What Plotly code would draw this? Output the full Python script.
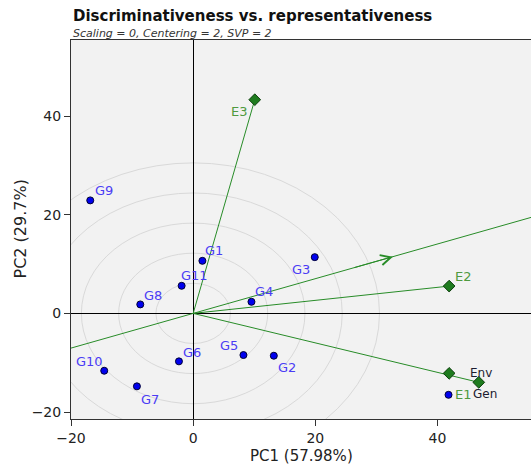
import plotly.graph_objects as go

# Genotype scores on the first two principal components
genotypes = ["G1", "G2", "G3", "G4", "G5", "G6", "G7", "G8", "G9", "G10", "G11"]
gen_pc1 = [1.51, 13.2, 19.9, 9.54, 8.23, -2.33, -9.21, -8.66, -16.85, -14.56, -1.89]
gen_pc2 = [10.65, -8.58, 11.4, 2.35, -8.44, -9.72, -14.78, 1.82, 22.9, -11.62, 5.59]

# Environment vectors (drawn from the origin)
envs = ["E3", "E2"]
env_pc1 = [10.08, 41.9]
env_pc2 = [43.3, 5.53]

# E1 score and the average environment / ideal genotype markers
e1_pc1, e1_pc2 = 41.8, -16.5
avg_names = ["Env", "Gen"]
avg_pc1 = [41.9, 46.75]
avg_pc2 = [-12.15, -13.97]

# Average-environment axis direction
aea_pc1, aea_pc2 = 32.7, 11.5

# Concentric reference circles
circle_radii = [6.1, 12.2, 18.3, 24.4, 30.5]

x_range = [-20, 55.3]
y_range = [-21.4, 55.4]

FONT = "DejaVu Sans, Arial, sans-serif"
GREEN = "rgb(40,140,40)"
LABEL_GREEN = "#4f9a3f"
BLUE_LABEL = "#4b3cf5"

# label offsets in screen pixels (dx right, dy down)
gen_label_offsets = [(12, -10), (13, 12), (-14, 12), (13, -10), (-14, -10), (13, -9),
                     (13, 13), (13, -9), (14, -10), (-15, -9), (13, -10)]
env_label_offsets = [(-15, 12), (14, -10)]
avg_label_offsets = [(32, 0), (6, 12)]
e1_label_offset = (15, 0)

fig = go.Figure()

# reference circles
for r in circle_radii:
    fig.add_shape(type="circle", xref="x", yref="y", x0=-r, x1=r, y0=-r, y1=r,
                  line=dict(color="#d9d9d9", width=1), layer="below")

# average-environment axis through the origin, spanning the plot
t_lo = x_range[0] / aea_pc1
t_hi = x_range[1] / aea_pc1
fig.add_trace(go.Scatter(x=[aea_pc1 * t_lo, aea_pc1 * t_hi], y=[aea_pc2 * t_lo, aea_pc2 * t_hi],
                         mode="lines", line=dict(color=GREEN, width=1), hoverinfo="skip",
                         showlegend=False))
fig.add_annotation(x=aea_pc1, y=aea_pc2, ax=aea_pc1 * 0.8, ay=aea_pc2 * 0.8,
                   xref="x", yref="y", axref="x", ayref="y", text="",
                   showarrow=True, arrowhead=5, arrowsize=2, arrowwidth=1, arrowcolor=GREEN)

# environment vectors
for px, py in zip(env_pc1 + [avg_pc1[1]], env_pc2 + [avg_pc2[1]]):
    fig.add_trace(go.Scatter(x=[0, px], y=[0, py], mode="lines",
                             line=dict(color=GREEN, width=1), hoverinfo="skip",
                             showlegend=False))

# environment markers
fig.add_trace(go.Scatter(x=env_pc1 + avg_pc1, y=env_pc2 + avg_pc2, mode="markers",
                         marker=dict(symbol="diamond", size=9, color="#1e7b1e",
                                     line=dict(color="#0b3d0b", width=1)),
                         showlegend=False))

# genotype markers (and E1)
fig.add_trace(go.Scatter(x=gen_pc1 + [e1_pc1], y=gen_pc2 + [e1_pc2], mode="markers",
                         marker=dict(symbol="circle", size=7, color="#0000ee",
                                     line=dict(color="#000033", width=1)),
                         showlegend=False))

# labels
for name, px, py, (dx, dy) in zip(genotypes, gen_pc1, gen_pc2, gen_label_offsets):
    fig.add_annotation(x=px, y=py, text=name, showarrow=False, xshift=dx, yshift=-dy,
                       font=dict(family=FONT, size=13, color=BLUE_LABEL))
for name, px, py, (dx, dy) in zip(envs, env_pc1, env_pc2, env_label_offsets):
    fig.add_annotation(x=px, y=py, text=name, showarrow=False, xshift=dx, yshift=-dy,
                       font=dict(family=FONT, size=13, color=LABEL_GREEN))
fig.add_annotation(x=e1_pc1, y=e1_pc2, text="E1", showarrow=False,
                   xshift=e1_label_offset[0], yshift=-e1_label_offset[1],
                   font=dict(family=FONT, size=13, color=LABEL_GREEN))
for name, px, py, (dx, dy) in zip(avg_names, avg_pc1, avg_pc2, avg_label_offsets):
    fig.add_annotation(x=px, y=py, text=name, showarrow=False, xshift=dx, yshift=-dy,
                       font=dict(family=FONT, size=12, color="#1c1c30"))

# title and subtitle
fig.add_annotation(xref="paper", yref="paper", x=0, y=1, xanchor="left", yanchor="middle",
                   yshift=24, text="<b>Discriminativeness vs. representativeness</b>",
                   showarrow=False, font=dict(family=FONT, size=15, color="#111111"))
fig.add_annotation(xref="paper", yref="paper", x=0, y=1, xanchor="left", yanchor="middle",
                   yshift=7, text="<i>Scaling = 0, Centering = 2, SVP = 2</i>",
                   showarrow=False, font=dict(family=FONT, size=11, color="#333333"))

# axis titles
fig.add_annotation(xref="paper", yref="paper", x=0.5, y=0, xanchor="center", yanchor="middle",
                   yshift=-37, text="PC1 (57.98%)", showarrow=False,
                   font=dict(family=FONT, size=15, color="#222222"))
fig.add_annotation(xref="paper", yref="paper", x=0, y=0.5, xanchor="center", yanchor="middle",
                   xshift=-51, textangle=-90, text="PC2 (29.7%)", showarrow=False,
                   font=dict(family=FONT, size=16, color="#222222"))

axis_common = dict(showgrid=False, zeroline=True, zerolinecolor="#000000", zerolinewidth=1,
                   showline=True, linecolor="#333333", linewidth=1,
                   ticks="outside", ticklen=6, tickcolor="#333333",
                   tickfont=dict(family=FONT, size=14, color="#222222"))

fig.update_layout(
    width=531, height=465,
    margin=dict(l=71, r=0, t=40, b=46),
    paper_bgcolor="white", plot_bgcolor="#f2f2f2",
    xaxis=dict(range=x_range, tickvals=[-20, 0, 20, 40], mirror=True, **axis_common),
    yaxis=dict(range=y_range, tickvals=[-20, 0, 20, 40], mirror=False, **axis_common),
)

fig.write_html("out.html")
